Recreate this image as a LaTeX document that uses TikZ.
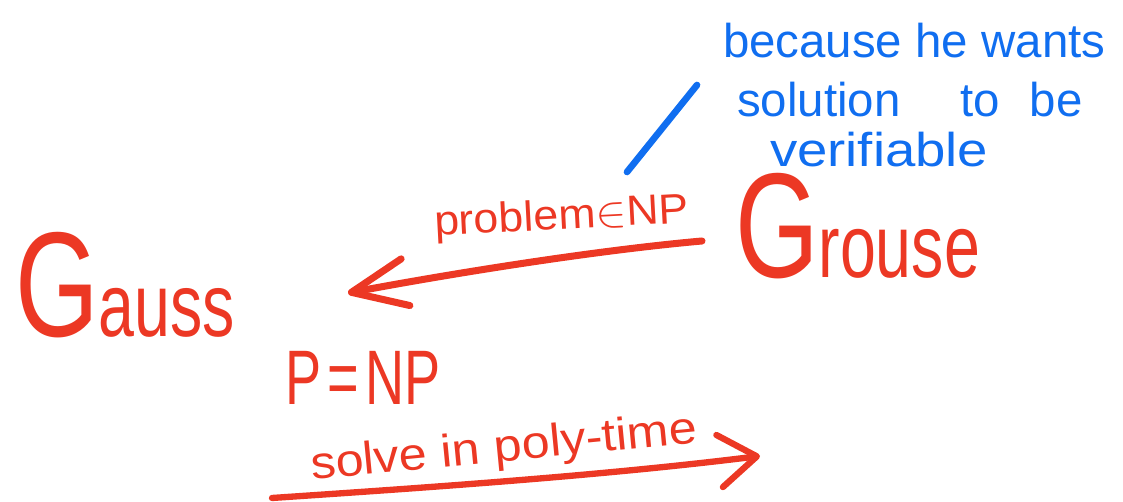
\documentclass[tikz,border=0pt]{standalone}
\usepackage{fontspec}
\setmainfont{Liberation Sans}
\usepackage{graphicx}
\usetikzlibrary{arrows.meta}
\definecolor{inkred}{RGB}{236,56,36}
\definecolor{inkblue}{RGB}{16,110,240}
\newcommand{\handword}[2]{\scalebox{0.72}[1]{\fontsize{85}{85}\selectfont #1\fontsize{51}{51}\selectfont #2}}
\begin{document}
\begin{tikzpicture}[x=0.02cm,y=-0.02cm,
  redtext/.style={text=inkred, inner sep=0pt, outer sep=0pt, anchor=base west},
  bluetext/.style={text=inkblue, inner sep=0pt, outer sep=0pt, anchor=base west, font=\fontsize{27}{27}\selectfont},
  redstroke/.style={draw=inkred, line cap=round, line join=round},
  bluestroke/.style={draw=inkblue, line cap=round, line join=round, line width=3.8pt},
]
\useasboundingbox (0,0) rectangle (1123,502);

% names
\node[redtext] (gauss) at (15,337) {\handword{G}{auss}};
\node[redtext] (grouse) at (735,278) {\handword{G}{rouse}};

% labels
\node[redtext, rotate=3, font=\fontsize{24}{24}\selectfont] (np) at (435,236) {\scalebox{1.06}[1]{problem$\in$NP}};
\node[redtext] (peq) at (285,405) {\scalebox{0.7}[1]{\fontsize{44}{44}\selectfont P\hspace{0.12em}=\hspace{0.12em}NP}};
\node[redtext, rotate=5.5, font=\fontsize{26}{26}\selectfont] (solve) at (312,480) {\scalebox{1.1}[1]{solve in poly-time}};

% blue note
\node[bluetext] (note1) at (723,58) {because he wants};
\node[bluetext] (note2) at (737,117) {solution\hspace{1.2cm}to\hspace{0.6cm}be};
\node[bluetext] (note3) at (770,167) {\scalebox{1.15}[1]{verifiable}};

% connectors
\coordinate (pointerTop) at (697,85);
\coordinate (pointerEnd) at (627,172);
\draw[bluestroke] (pointerTop) -- (pointerEnd);

\coordinate (fromGrouse) at (702,241);
\coordinate (toGauss) at (348,293);
\draw[redstroke, line width=4pt, -{Straight Barb[length=1.1cm,width=0.95cm,round]}]
  (fromGrouse) .. controls (600,250) and (460,272) .. (toGauss);

\coordinate (underStart) at (272,498);
\coordinate (underTip) at (760,456);
\draw[redstroke, line width=3.6pt, -{Straight Barb[length=0.75cm,width=1.05cm,round]}]
  (underStart) .. controls (420,488) and (600,476) .. (underTip);
\end{tikzpicture}
\end{document}
